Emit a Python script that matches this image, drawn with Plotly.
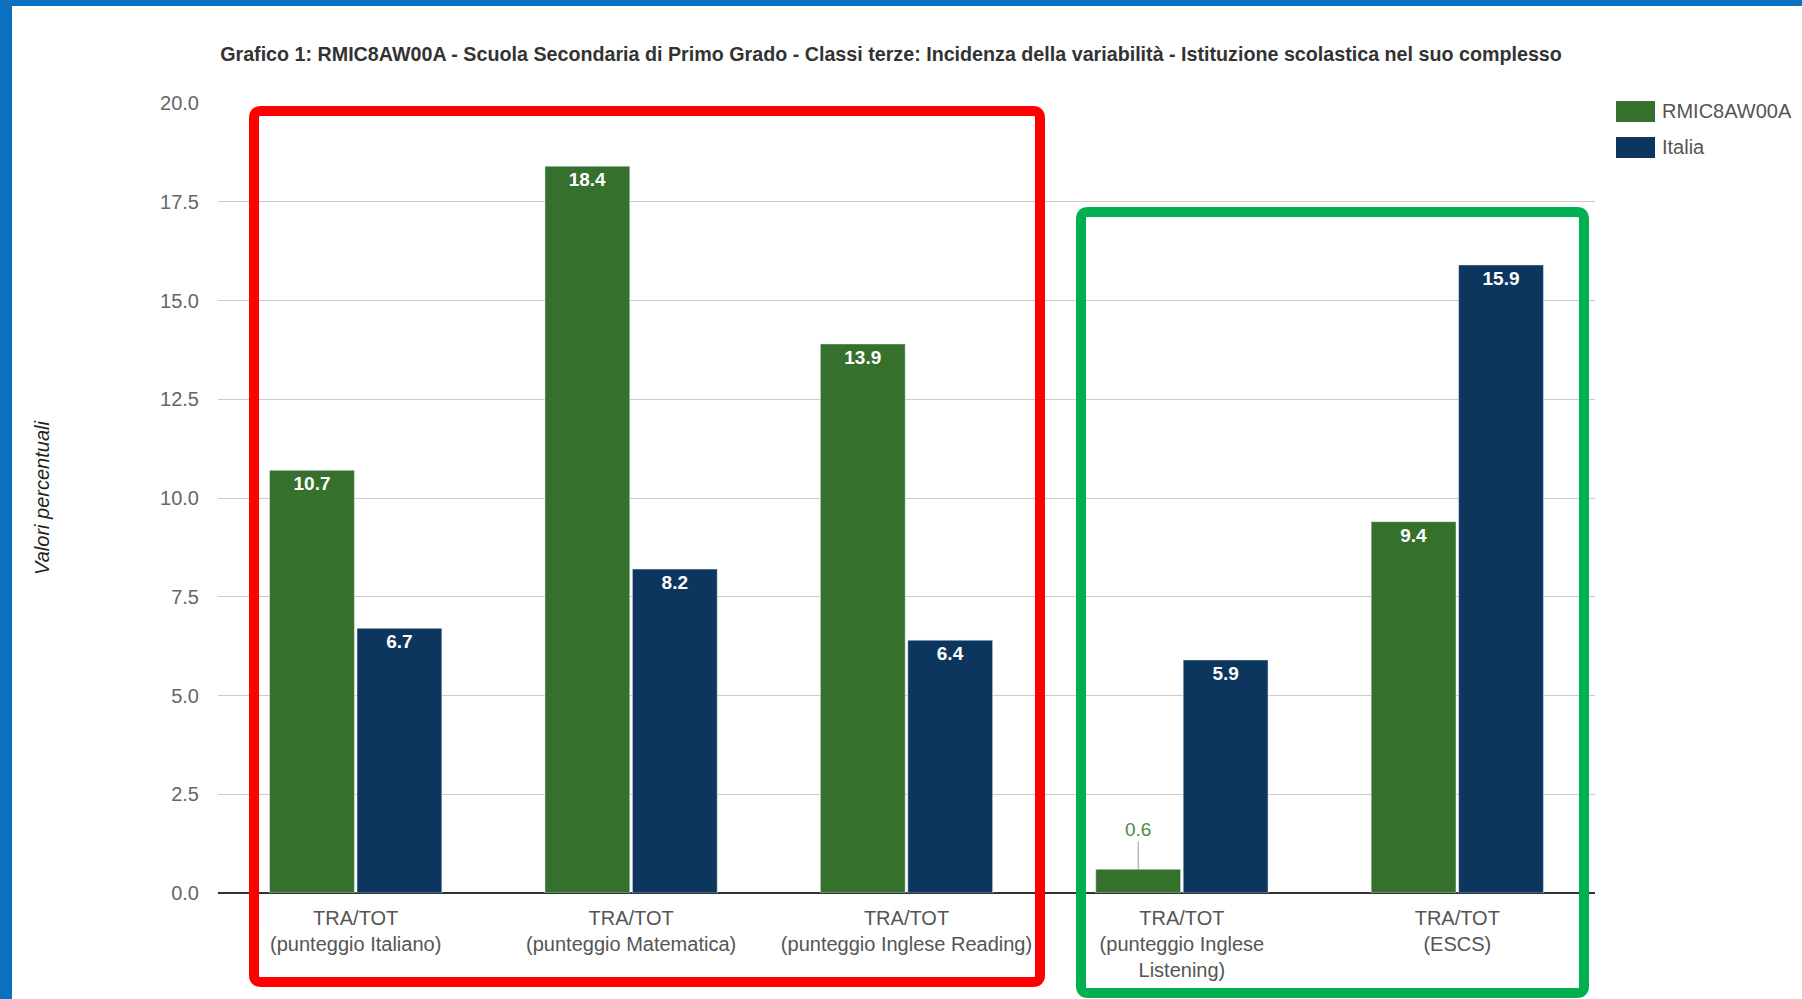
import plotly.graph_objects as go

# ---- data ----
categories = [
    "TRA/TOT<br>(punteggio Italiano)",
    "TRA/TOT<br>(punteggio Matematica)",
    "TRA/TOT<br>(punteggio Inglese Reading)",
    "TRA/TOT<br>(punteggio Inglese<br>Listening)",
    "TRA/TOT<br>(ESCS)",
]
school_name = "RMIC8AW00A"
italy_name = "Italia"
school_values = [10.7, 18.4, 13.9, 0.6, 9.4]
italy_values = [6.7, 8.2, 6.4, 5.9, 15.9]
y_ticks = [0, 2.5, 5, 7.5, 10, 12.5, 15, 17.5, 20]

title_text = ("Grafico 1: RMIC8AW00A - Scuola Secondaria di Primo Grado - Classi terze: "
              "Incidenza della variabilità - Istituzione scolastica nel suo complesso")
y_title = "Valori percentuali"

# ---- styles ----
GREEN = "#36702d"
NAVY = "#0c365e"
FONT = "Liberation Sans"
W, H = 1802, 999
ML, MR, MT, MB = 218, 207, 103, 106
PW, PH = W - ML - MR, H - MT - MB
BARGAP, BARGROUPGAP = 0.365, 0.03
SMALL = 2.0  # values below this get an outside label with leader line


def px_x(x):
    return (x - ML) / PW


def px_y(y):
    return (H - MB - y) / PH


def rounded_rect(x0, y0, x1, y1, r):
    X0, X1 = px_x(x0), px_x(x1)
    Y0, Y1 = px_y(y0), px_y(y1)
    rx, ry = r / PW, r / PH
    return (f"M{X0+rx},{Y0} L{X1-rx},{Y0} Q{X1},{Y0} {X1},{Y0-ry} "
            f"L{X1},{Y1+ry} Q{X1},{Y1} {X1-rx},{Y1} L{X0+rx},{Y1} "
            f"Q{X0},{Y1} {X0},{Y1+ry} L{X0},{Y0-ry} Q{X0},{Y0} {X0+rx},{Y0} Z")


def label_pos(vals):
    return ["inside" if v >= SMALL else "none" for v in vals]


fig = go.Figure()
fig.add_trace(go.Bar(
    x=categories, y=school_values, name=school_name, marker_color=GREEN,
    texttemplate="%{y:.1f}", textposition=label_pos(school_values),
    insidetextanchor="end", textangle=0,
    textfont=dict(family=FONT, size=19, color="white", weight="bold"),
    showlegend=False,
))
fig.add_trace(go.Bar(
    x=categories, y=italy_values, name=italy_name, marker_color=NAVY,
    texttemplate="%{y:.1f}", textposition=label_pos(italy_values),
    insidetextanchor="end", textangle=0,
    textfont=dict(family=FONT, size=19, color="white", weight="bold"),
    showlegend=False,
))

# leader-line labels for small values
slot = PW / len(categories) * (1 - BARGAP) / 2
for series, color, sign in ((school_values, GREEN, -1), (italy_values, NAVY, 1)):
    for cat, v in zip(categories, series):
        if v < SMALL:
            fig.add_annotation(
                x=cat, y=v, xref="x", yref="y", xshift=sign * slot / 2,
                text=f"{v:.1f}", showarrow=True, arrowhead=0, arrowwidth=1,
                arrowcolor="#999999", ax=0, ay=-40, standoff=0,
                font=dict(family=FONT, size=19, color="#4e8a44"),
            )

# custom legend
for i, (name, color) in enumerate(((school_name, GREEN), (italy_name, NAVY))):
    top = 101 + i * 36
    fig.add_shape(type="rect", xref="paper", yref="paper",
                  x0=px_x(1616), x1=px_x(1655), y0=px_y(top), y1=px_y(top + 21),
                  fillcolor=color, line=dict(width=0))
    fig.add_annotation(xref="paper", yref="paper", x=px_x(1660), y=px_y(top + 10.5),
                       xanchor="left", yanchor="middle", showarrow=False, text=name,
                       font=dict(family=FONT, size=20, color="#555555"))

# highlight boxes
fig.add_shape(type="path", xref="paper", yref="paper",
              path=rounded_rect(254, 111, 1040, 982, 7),
              line=dict(color="#ff0000", width=10), fillcolor="rgba(0,0,0,0)")
fig.add_shape(type="path", xref="paper", yref="paper",
              path=rounded_rect(1081, 212, 1584, 993, 7),
              line=dict(color="#00b050", width=10), fillcolor="rgba(0,0,0,0)")

# blue page frame
fig.add_shape(type="rect", xref="paper", yref="paper",
              x0=px_x(0), x1=px_x(W), y0=px_y(0), y1=px_y(6),
              fillcolor="#0b70c0", line=dict(width=0), layer="above")
fig.add_shape(type="rect", xref="paper", yref="paper",
              x0=px_x(0), x1=px_x(12), y0=px_y(0), y1=px_y(H),
              fillcolor="#0b70c0", line=dict(width=0), layer="above")

fig.update_layout(
    width=W, height=H,
    margin=dict(l=ML, r=MR, t=MT, b=MB),
    paper_bgcolor="white", plot_bgcolor="white",
    barmode="group", bargap=BARGAP, bargroupgap=BARGROUPGAP,
    font=dict(family=FONT, color="#444444"),
    title=dict(text=title_text, x=891 / W, xanchor="center",
               y=1 - 54 / H, yanchor="middle", xref="container", yref="container",
               font=dict(family=FONT, size=19.7, color="#333333", weight="bold")),
    xaxis=dict(showgrid=False, tickfont=dict(family=FONT, size=20, color="#555555"),
               showline=False, ticks="", ticklabelstandoff=11),
    yaxis=dict(range=[0, 20], tickvals=y_ticks, tickformat=".1f",
               showgrid=True, gridcolor="#cccccc", gridwidth=1,
               zeroline=True, zerolinecolor="#333333", zerolinewidth=2,
               tickfont=dict(family=FONT, size=20, color="#666666"),
               ticklabelstandoff=18,
               title=dict(text=y_title, standoff=105,
                          font=dict(family=FONT, size=20, color="#222222", style="italic"))),
)

fig.write_html("out.html", config={"displayModeBar": False},
               post_script="document.body.style.margin='0';")
